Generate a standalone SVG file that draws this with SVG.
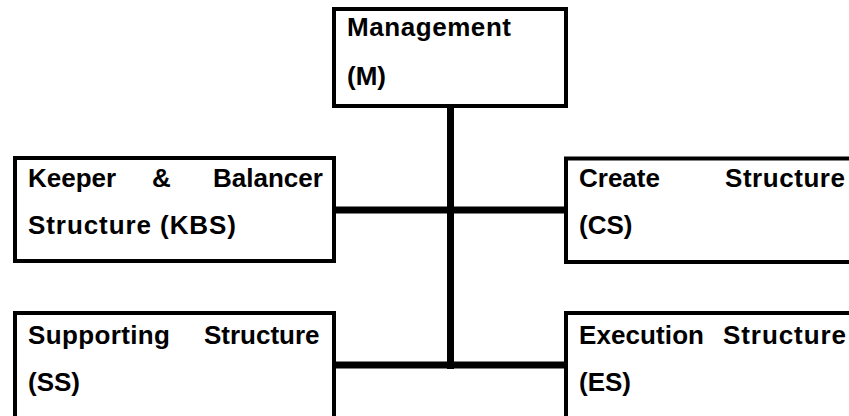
<svg xmlns="http://www.w3.org/2000/svg" width="849" height="416" viewBox="0 0 849 416">
<style>
.box{fill:#fff;stroke:#000;stroke-width:4}
.lbl{font-family:"Liberation Sans",Arial,sans-serif;font-weight:bold;font-size:26px;fill:#000}
.con{stroke:#000;stroke-width:7;fill:none}
</style>
<rect width="849" height="416" fill="#fff"/>
<g id="connectors">
<line class="con" x1="450.5" y1="106" x2="450.5" y2="369"/>
<line class="con" x1="336" y1="210" x2="564" y2="210"/>
<line class="con" x1="336" y1="365" x2="564" y2="365"/>
</g>
<g id="node-m">
<rect class="box" x="334" y="9" width="232" height="97"/>
<text class="lbl" x="347" y="36" textLength="164" lengthAdjust="spacing">Management</text>
<text class="lbl" x="347" y="85">(M)</text>
</g>
<g id="node-kbs">
<rect class="box" x="15" y="158" width="319" height="103"/>
<text class="lbl" x="28" y="187">Keeper</text>
<text class="lbl" x="152" y="187">&amp;</text>
<text class="lbl" x="213" y="187">Balancer</text>
<text class="lbl" x="28" y="234" textLength="208" lengthAdjust="spacing">Structure (KBS)</text>
</g>
<g id="node-cs">
<rect class="box" x="566" y="158.5" width="300" height="103.5"/>
<text class="lbl" x="579" y="187">Create</text>
<text class="lbl" x="725" y="187" textLength="120" lengthAdjust="spacing">Structure</text>
<text class="lbl" x="579" y="234">(CS)</text>
</g>
<g id="node-ss">
<rect class="box" x="15" y="313" width="319" height="200"/>
<text class="lbl" x="28" y="344" textLength="142" lengthAdjust="spacing">Supporting</text>
<text class="lbl" x="204" y="344">Structure</text>
<text class="lbl" x="28" y="391">(SS)</text>
</g>
<g id="node-es">
<rect class="box" x="566" y="313" width="300" height="200"/>
<text class="lbl" x="579" y="344" textLength="125" lengthAdjust="spacing">Execution</text>
<text class="lbl" x="723" y="344" textLength="123" lengthAdjust="spacing">Structure</text>
<text class="lbl" x="579" y="391">(ES)</text>
</g>
</svg>
